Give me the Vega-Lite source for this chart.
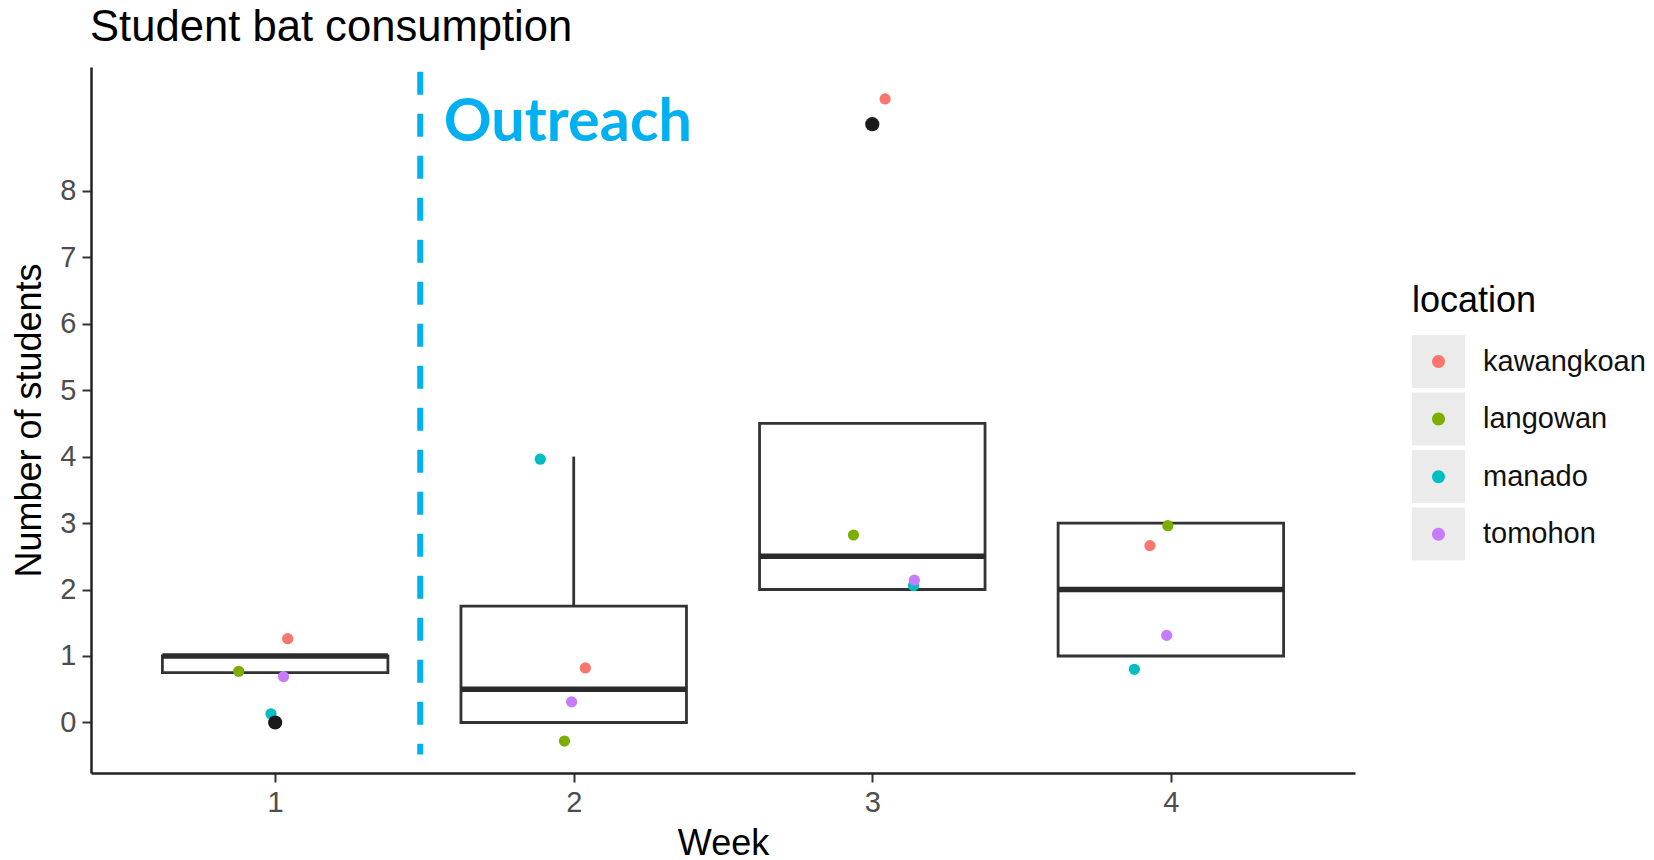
{
  "$schema": "https://vega.github.io/schema/vega-lite/v6.json",
  "width": 1264,
  "height": 706,
  "autosize": {"type": "none"},
  "padding": {"left": 91, "top": 67, "right": 299, "bottom": 87},
  "background": "white",
  "title": {
    "text": "Student bat consumption",
    "anchor": "start",
    "frame": "group",
    "baseline": "alphabetic",
    "offset": -18,
    "dx": -1,
    "font": "Liberation Sans",
    "fontSize": 43.6,
    "fontWeight": "normal",
    "color": "#000000"
  },
  "config": {
    "view": {"stroke": null},
    "axis": {
      "grid": false,
      "domainColor": "#222222",
      "domainWidth": 2.5,
      "tickColor": "#333333",
      "tickWidth": 2,
      "tickSize": 9,
      "labelFont": "Liberation Sans",
      "labelFontSize": 29,
      "labelColor": "#4D4D4D",
      "labelPadding": 6,
      "titleFont": "Liberation Sans",
      "titleFontSize": 36,
      "titleFontWeight": "normal",
      "titleColor": "#000000"
    },
    "axisX": {"titlePadding": 9},
    "axisY": {"titlePadding": 11.8},
    "legend": {
      "orient": "none",
      "legendX": 1321,
      "padding": 0,
      "titleFont": "Liberation Sans",
      "titleFontSize": 36,
      "titleFontWeight": "normal",
      "titleColor": "#000000",
      "titlePadding": 15,
      "labelFont": "Liberation Sans",
      "labelFontSize": 29,
      "labelColor": "#111111",
      "labelOffset": 18,
      "labelLimit": 400,
      "symbolSize": 2809
    }
  },
  "datasets": {
    "points": [
      {"week": 1.042, "students": 1.26, "location": "kawangkoan"},
      {"week": 0.878, "students": 0.77, "location": "langowan"},
      {"week": 0.986, "students": 0.13, "location": "manado"},
      {"week": 1.028, "students": 0.69, "location": "tomohon"},
      {"week": 2.039, "students": 0.82, "location": "kawangkoan"},
      {"week": 1.969, "students": -0.28, "location": "langowan"},
      {"week": 1.888, "students": 3.96, "location": "manado"},
      {"week": 1.993, "students": 0.31, "location": "tomohon"},
      {"week": 3.043, "students": 9.38, "location": "kawangkoan"},
      {"week": 2.937, "students": 2.82, "location": "langowan"},
      {"week": 3.138, "students": 2.06, "location": "manado"},
      {"week": 3.141, "students": 2.14, "location": "tomohon"},
      {"week": 3.93, "students": 2.66, "location": "kawangkoan"},
      {"week": 3.99, "students": 2.96, "location": "langowan"},
      {"week": 3.878, "students": 0.8, "location": "manado"},
      {"week": 3.986, "students": 1.31, "location": "tomohon"}
    ],
    "boxes": [
      {"week": 1, "lower": 0.75, "q1": 0.75, "median": 1, "q3": 1, "upper": 1},
      {"week": 2, "lower": 0, "q1": 0, "median": 0.5, "q3": 1.75, "upper": 4},
      {"week": 3, "lower": 2, "q1": 2, "median": 2.5, "q3": 4.5, "upper": 4.5},
      {"week": 4, "lower": 1, "q1": 1, "median": 2, "q3": 3, "upper": 3}
    ],
    "outliers": [
      {"week": 1, "students": 0},
      {"week": 3, "students": 9}
    ],
    "divider": [
      {"week": 1.486, "top": 9.79, "bottom": -0.48}
    ],
    "note": [
      {"week": 1.565, "students": 8.75, "label": "Outreach"}
    ]
  },
  "layer": [
    {
      "data": {"name": "boxes"},
      "mark": {"type": "bar", "width": 225.5, "fill": "white", "stroke": "#333333", "strokeWidth": 2.8},
      "encoding": {
        "x": {"field": "week", "type": "quantitative", "title": "Week",
              "scale": {"domain": [0.4, 4.6], "nice": false, "zero": false},
              "axis": {"values": [1, 2, 3, 4], "format": "d"}},
        "y": {"field": "q1", "type": "quantitative", "title": "Number of students",
              "scale": {"domain": [-0.76, 9.86], "nice": false, "zero": false},
              "axis": {"values": [0, 1, 2, 3, 4, 5, 6, 7, 8], "format": "d"}},
        "y2": {"field": "q3"}
      }
    },
    {
      "data": {"name": "boxes"},
      "mark": {"type": "rule", "color": "#333333", "strokeWidth": 2.8},
      "encoding": {
        "x": {"field": "week", "type": "quantitative", "title": "Week"},
        "y": {"field": "q3", "type": "quantitative", "title": "Number of students"},
        "y2": {"field": "upper"}
      }
    },
    {
      "data": {"name": "boxes"},
      "mark": {"type": "rule", "color": "#333333", "strokeWidth": 2.8},
      "encoding": {
        "x": {"field": "week", "type": "quantitative", "title": "Week"},
        "y": {"field": "q1", "type": "quantitative", "title": "Number of students"},
        "y2": {"field": "lower"}
      }
    },
    {
      "data": {"name": "boxes"},
      "mark": {"type": "tick", "orient": "horizontal", "size": 225.5, "thickness": 5.5, "color": "#2a2a2a", "opacity": 1},
      "encoding": {
        "x": {"field": "week", "type": "quantitative", "title": "Week"},
        "y": {"field": "median", "type": "quantitative", "title": "Number of students"}
      }
    },
    {
      "data": {"name": "points"},
      "mark": {"type": "circle", "size": 126, "opacity": 1},
      "encoding": {
        "x": {"field": "week", "type": "quantitative", "title": "Week"},
        "y": {"field": "students", "type": "quantitative", "title": "Number of students"},
        "color": {
          "field": "location", "type": "nominal",
          "scale": {"range": ["#F8766D", "#7CAE00", "#00BFC4", "#C77CFF"]},
          "legend": {
            "title": "location",
            "legendY": 217,
            "rowPadding": 15.6,
            "zindex": 2,
            "symbolType": "M -0.245 0 A 0.245 0.245 0 1 1 0.245 0 A 0.245 0.245 0 1 1 -0.245 0 Z",
            "symbolStrokeWidth": 0,
            "symbolOpacity": 1
          }
        },
        "opacity": {
          "field": "location", "type": "ordinal",
          "scale": {"domain": ["kawangkoan", "langowan", "manado", "tomohon"], "range": [1, 1, 1, 1]},
          "legend": {
            "title": null,
            "legendY": 268,
            "rowPadding": 4.5,
            "zindex": 1,
            "symbolType": "square",
            "symbolFillColor": "#EBEBEB",
            "symbolStrokeColor": "#EBEBEB",
            "symbolStrokeWidth": 0,
            "labelExpr": "''"
          }
        }
      }
    },
    {
      "data": {"name": "outliers"},
      "mark": {"type": "circle", "size": 201, "color": "#1a1a1a", "opacity": 1},
      "encoding": {
        "x": {"field": "week", "type": "quantitative", "title": "Week"},
        "y": {"field": "students", "type": "quantitative", "title": "Number of students"}
      }
    },
    {
      "data": {"name": "divider"},
      "mark": {"type": "rule", "color": "#00B0F0", "strokeWidth": 6, "strokeDash": [23, 19]},
      "encoding": {
        "x": {"field": "week", "type": "quantitative", "title": "Week"},
        "y": {"field": "top", "type": "quantitative", "title": "Number of students"},
        "y2": {"field": "bottom"}
      }
    },
    {
      "data": {"name": "note"},
      "mark": {"type": "text", "align": "left", "baseline": "alphabetic", "font": "Lato", "fontWeight": "bold", "fontSize": 59.3, "color": "#00B0F0"},
      "encoding": {
        "x": {"field": "week", "type": "quantitative", "title": "Week"},
        "y": {"field": "students", "type": "quantitative", "title": "Number of students"},
        "text": {"field": "label"}
      }
    }
  ]
}
